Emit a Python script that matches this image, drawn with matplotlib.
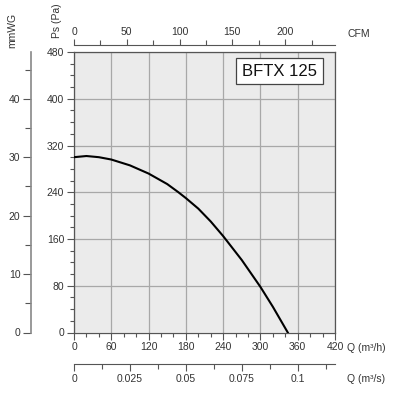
import matplotlib
matplotlib.use("Agg")
import matplotlib.pyplot as plt
from matplotlib.ticker import MultipleLocator, FixedLocator

# fan curve: flow in m3/h, static pressure in Pa
q_m3h = [0, 20, 40, 60, 90, 120, 150, 168, 180, 200, 220, 240, 270, 300, 320, 344]
ps_pa = [300, 302, 300, 296, 286, 272, 254, 240, 230, 212, 190, 165, 124, 78, 44, 0]

model = "BFTX 125"
cfm_ticks = [0, 50, 100, 150, 200]
m3s_ticks = [0, 0.025, 0.05, 0.075, 0.1]
m3s_labels = ["0", "0.025", "0.05", "0.075", "0.1"]

TXT = "#333333"
AX = "#555555"
FS = 7.5

plt.rcParams["font.family"] = ["Liberation Sans", "DejaVu Sans"]

fig = plt.figure(figsize=(4.0, 3.93), dpi=100)
ax = fig.add_axes([74 / 400, 1 - 332.5 / 393, 261 / 400, 280.5 / 393])
ax.set_facecolor("#ebebeb")
ax.set_xlim(0, 420)
ax.set_ylim(0, 480)

ax.plot(q_m3h, ps_pa, color="black", lw=1.5, zorder=3)

ax.xaxis.set_major_locator(MultipleLocator(60))
ax.xaxis.set_minor_locator(MultipleLocator(20))
ax.yaxis.set_major_locator(MultipleLocator(80))
ax.yaxis.set_minor_locator(MultipleLocator(20))
ax.grid(True, which="major", color="#a8a8a8", lw=0.9)
ax.set_axisbelow(True)
ax.tick_params(which="both", direction="out", colors=AX, labelcolor=TXT, labelsize=FS, width=0.8, pad=2)
ax.tick_params(which="major", length=5)
ax.tick_params(which="minor", length=3)
for s in ax.spines.values():
    s.set_color(AX)
    s.set_linewidth(0.9)

# mmWG axis (drawn as Pa / 10)
mm = ax.secondary_yaxis("left", functions=(lambda p: p / 10, lambda m: m * 10))
mm.spines["left"].set_position(("outward", 31))
mm.spines["left"].set_color("#888888")
mm.spines["left"].set_linewidth(1.2)
mm.yaxis.set_major_locator(FixedLocator([0, 10, 20, 30, 40]))
mm.yaxis.set_minor_locator(FixedLocator([5, 15, 25, 35, 45]))
mm.tick_params(which="both", colors=AX, labelcolor=TXT, labelsize=FS, width=0.8, pad=1.5)
mm.tick_params(which="major", length=6)
mm.tick_params(which="minor", length=4)

# CFM axis on top
cfm = ax.secondary_xaxis("top", functions=(lambda q: q / 1.699, lambda c: c * 1.699))
cfm.spines["top"].set_position(("outward", 5))
cfm.spines["top"].set_color(AX)
cfm.xaxis.set_major_locator(FixedLocator(cfm_ticks))
cfm.xaxis.set_minor_locator(FixedLocator([25, 75, 125, 175, 225]))
cfm.tick_params(which="both", colors=AX, labelcolor=TXT, labelsize=FS, width=0.8, pad=2)
cfm.tick_params(which="major", length=4)
cfm.tick_params(which="minor", length=3.5)

# m3/s axis below
m3s = ax.secondary_xaxis("bottom", functions=(lambda q: q / 3600, lambda s: s * 3600))
m3s.spines["bottom"].set_position(("outward", 23))
m3s.spines["bottom"].set_color(AX)
m3s.xaxis.set_major_locator(FixedLocator(m3s_ticks))
m3s.set_xticklabels(m3s_labels)
m3s.xaxis.set_minor_locator(FixedLocator([0.0125, 0.0375, 0.0625, 0.0875, 0.1125]))
m3s.tick_params(which="both", colors=AX, labelcolor=TXT, labelsize=FS, width=0.8, pad=2)
m3s.tick_params(which="major", length=5)
m3s.tick_params(which="minor", length=3.5)

# axis titles
fig.text(12 / 400, 1 - 30 / 393, "mmWG", rotation=90, ha="center", va="center", fontsize=FS, color=TXT)
fig.text(57 / 400, 1 - 21 / 393, "Ps (Pa)", rotation=90, ha="center", va="center", fontsize=FS, color=TXT)
fig.text(347 / 400, 1 - 34 / 393, "CFM", ha="left", va="center", fontsize=FS, color=TXT)
fig.text(347 / 400, 1 - 348 / 393, "Q (m³/h)", ha="left", va="center", fontsize=FS, color=TXT)
fig.text(347 / 400, 1 - 379 / 393, "Q (m³/s)", ha="left", va="center", fontsize=FS, color=TXT)

ax.text(0.93, 0.932, model, transform=ax.transAxes, ha="right", va="center", fontsize=12, color="#111111",
        bbox=dict(boxstyle="square,pad=0.35", fc="white", ec="#444444", lw=0.9), zorder=5)

fig.savefig("out.png", dpi=100, facecolor="white")
